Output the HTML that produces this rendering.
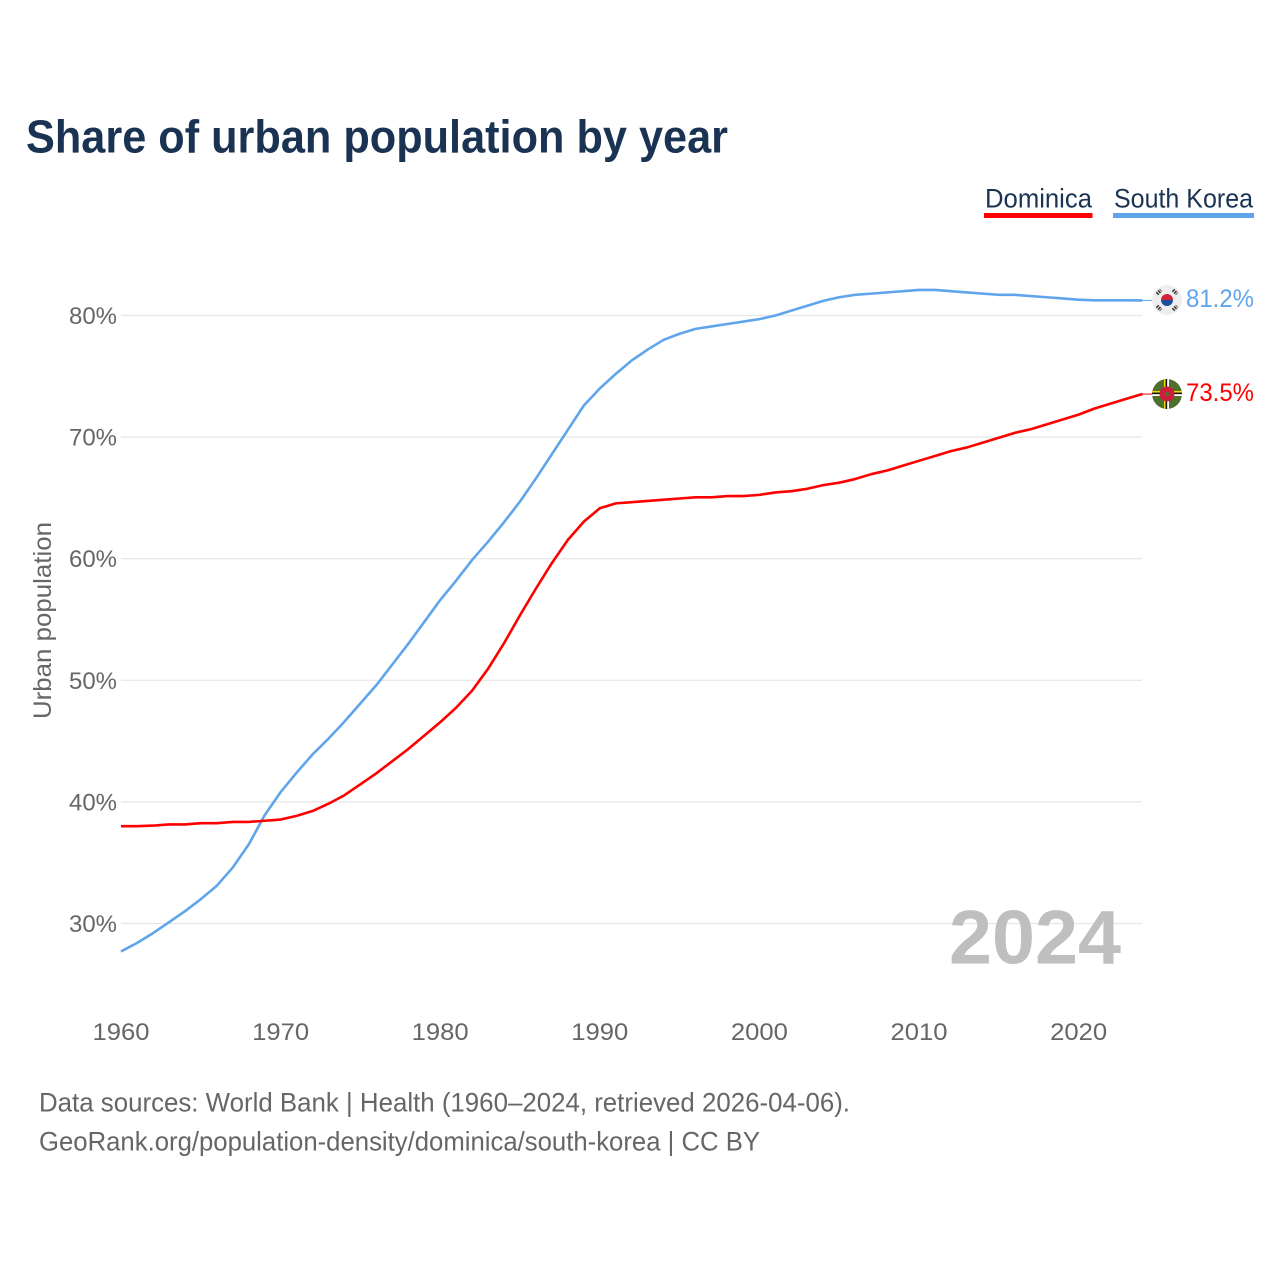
<!DOCTYPE html>
<html lang="en">
<head>
<meta charset="utf-8">
<title>Share of urban population by year</title>
<style>
html,body{margin:0;padding:0;background:#fff;width:1280px;height:1280px;overflow:hidden}
svg{display:block}
text{font-family:"Liberation Sans",sans-serif}
</style>
</head>
<body>
<svg id="chart" xmlns="http://www.w3.org/2000/svg" width="1280" height="1280" viewBox="0 0 1280 1280">
  <rect x="0" y="0" width="1280" height="1280" fill="#ffffff"/>
  <text x="26" y="152.500" font-size="46" font-weight="700" fill="#1a3353" textLength="702" lengthAdjust="spacingAndGlyphs">Share of urban population by year</text>

  <g>
    <text x="985" y="207.500" font-size="27" fill="#1a3353" textLength="107" lengthAdjust="spacingAndGlyphs">Dominica</text>
    <rect x="984" y="213" width="108.500" height="5" fill="#ff0000"/>
  </g>
  <g>
    <text x="1114" y="207.500" font-size="27" fill="#1a3353" textLength="139" lengthAdjust="spacingAndGlyphs">South Korea</text>
    <rect x="1113" y="213" width="141" height="5" fill="#60a5ec"/>
  </g>

  <g id="grid"></g>
  <g id="yticks"></g>
  <g id="xticks"></g>
  <text transform="translate(51,620.500) rotate(-90)" text-anchor="middle" font-size="25" fill="#666666" textLength="197" lengthAdjust="spacingAndGlyphs">Urban population</text>

  <text x="949" y="963.500" font-size="76" font-weight="700" fill="#bfbfbf" textLength="172" lengthAdjust="spacingAndGlyphs">2024</text>

  <g id="series"></g>

  <defs>
    <clipPath id="flag-clip-a"><circle cx="1167" cy="300" r="15"/></clipPath>
    <clipPath id="flag-clip-b"><circle cx="1167" cy="394" r="15"/></clipPath>
  </defs>

  <g id="flag-kr" clip-path="url(#flag-clip-a)">
    <circle cx="1167" cy="300" r="15" fill="#eeeeee"/>
    <path d="M1161 300a6 6 0 0 1 12 0z" fill="#d2233c"/>
    <path d="M1161 300a6 6 0 0 0 12 0z" fill="#1c4fa0"/>
    <g stroke="#333333" stroke-width="3.500" stroke-dasharray="1.500 1">
      <line x1="1157" y1="294" x2="1161" y2="290"/>
      <line x1="1173" y1="290" x2="1177" y2="294"/>
      <line x1="1157" y1="306" x2="1161" y2="310"/>
      <line x1="1173" y1="310" x2="1177" y2="306"/>
    </g>
  </g>

  <g id="flag-dm" clip-path="url(#flag-clip-b)">
    <circle cx="1167" cy="394" r="15" fill="#4f6f2d"/>
    <rect x="1152" y="391" width="30" height="1.600" fill="#f5d800"/>
    <rect x="1152" y="392.600" width="30" height="1.600" fill="#111111"/>
    <rect x="1152" y="394.200" width="30" height="1.800" fill="#ffffff"/>
    <rect x="1164" y="379" width="1.600" height="30" fill="#f5d800"/>
    <rect x="1165.600" y="379" width="1.600" height="30" fill="#111111"/>
    <rect x="1167.200" y="379" width="1.800" height="30" fill="#ffffff"/>
    <circle cx="1167" cy="394" r="7.500" fill="#d01c3a"/>
    <circle cx="1167" cy="394" r="2" fill="#3f7a30"/>
  </g>

  <text id="label-kr" x="1186" y="307" font-size="25" fill="#60a5ec" textLength="68" lengthAdjust="spacingAndGlyphs"></text>
  <text id="label-dm" x="1186" y="401" font-size="25" fill="#ff0000" textLength="68" lengthAdjust="spacingAndGlyphs"></text>

  <text x="39" y="1111.500" font-size="27" fill="#666666" textLength="811" lengthAdjust="spacingAndGlyphs">Data sources: World Bank | Health (1960–2024, retrieved 2026-04-06).</text>
  <text x="39" y="1150.500" font-size="27" fill="#666666" textLength="721" lengthAdjust="spacingAndGlyphs">GeoRank.org/population-density/dominica/south-korea | CC BY</text>
</svg>

<script>
const startYear = 1960;
const xTickYears = [1960, 1970, 1980, 1990, 2000, 2010, 2020];
const yTickValues = [30, 40, 50, 60, 70, 80];
const southKoreaValues = [
  27.7, 28.4, 29.2, 30.1, 31.0, 32.0, 33.1, 34.6, 36.5, 38.9,
  40.8, 42.4, 43.9, 45.2, 46.6, 48.1, 49.6, 51.3, 53.0, 54.8,
  56.6, 58.2, 59.9, 61.4, 63.0, 64.7, 66.6, 68.6, 70.6, 72.6,
  74.0, 75.2, 76.3, 77.2, 78.0, 78.5, 78.9, 79.1, 79.3, 79.5,
  79.7, 80.0, 80.4, 80.8, 81.2, 81.5, 81.7, 81.8, 81.9, 82.0,
  82.1, 82.1, 82.0, 81.9, 81.8, 81.7, 81.7, 81.6, 81.5, 81.4,
  81.3, 81.25, 81.25, 81.25, 81.24
];
const dominicaValues = [
  38.0, 38.0, 38.05, 38.15, 38.15, 38.25, 38.25, 38.35, 38.35, 38.45,
  38.55, 38.85, 39.25, 39.85, 40.55, 41.45, 42.35, 43.35, 44.35, 45.45,
  46.55, 47.75, 49.15, 50.95, 53.05, 55.35, 57.55, 59.65, 61.55, 63.05,
  64.15, 64.55, 64.65, 64.75, 64.85, 64.95, 65.05, 65.05, 65.15, 65.15,
  65.25, 65.45, 65.55, 65.75, 66.05, 66.25, 66.55, 66.95, 67.25, 67.65,
  68.05, 68.45, 68.85, 69.15, 69.55, 69.95, 70.35, 70.65, 71.05, 71.45,
  71.85, 72.35, 72.75, 73.15, 73.54
];

const SVG_NS = 'http://www.w3.org/2000/svg';
function xScale(year) { return 121 + (year - 1960) * 15.96; }
function yScale(value) { return 315.5 + (80 - value) * 12.16; }
function make(tag, attrs, parent) {
  const el = document.createElementNS(SVG_NS, tag);
  for (const k in attrs) el.setAttribute(k, attrs[k]);
  parent.appendChild(el);
  return el;
}
function linePath(values) {
  return values.map((v, i) => (i ? 'L' : 'M') + xScale(startYear + i).toFixed(2) + ' ' + yScale(v).toFixed(2)).join('');
}

const gridGroup = document.getElementById('grid');
const yGroup = document.getElementById('yticks');
const xGroup = document.getElementById('xticks');
const seriesGroup = document.getElementById('series');

yTickValues.forEach(v => {
  const g = make('line', { x1: 121, x2: 1142, y1: yScale(v), y2: yScale(v), stroke: '#e6e6e6', 'stroke-width': 1.2 }, gridGroup);
  
  
  const t = make('text', { x: 117, y: yScale(v) + 8.5, 'text-anchor': 'end', 'font-size': 24, fill: '#666666', textLength: 48, lengthAdjust: 'spacingAndGlyphs' }, yGroup);
  
  
  t.textContent = v + '%';
});

xTickYears.forEach(y => {
  const t = make('text', { x: xScale(y), y: 1040, 'text-anchor': 'middle', 'font-size': 24, fill: '#666666', textLength: 57, lengthAdjust: 'spacingAndGlyphs' }, xGroup);
  
  
  t.textContent = y;
});

const krLine = make('path', { d: linePath(southKoreaValues), fill: 'none', stroke: '#60a5ec', 'stroke-width': 2.6, 'stroke-linejoin': 'round' }, seriesGroup);


const dmLine = make('path', { d: linePath(dominicaValues), fill: 'none', stroke: '#ff0000', 'stroke-width': 2.6, 'stroke-linejoin': 'round' }, seriesGroup);



const lastIdx = southKoreaValues.length - 1;
const krEnd = southKoreaValues[lastIdx];
const dmEnd = dominicaValues[lastIdx];
const krLead = make('line', { x1: xScale(2024), x2: xScale(2024) + 11, y1: yScale(krEnd), y2: yScale(krEnd), stroke: '#60a5ec', 'stroke-width': 1 }, seriesGroup);


const dmLead = make('line', { x1: xScale(2024), x2: xScale(2024) + 11, y1: yScale(dmEnd), y2: yScale(dmEnd), stroke: '#ff0000', 'stroke-width': 1 }, seriesGroup);



document.getElementById('label-kr').textContent = krEnd.toFixed(1) + '%';
document.getElementById('label-dm').textContent = dmEnd.toFixed(1) + '%';
</script>
</body>
</html>
